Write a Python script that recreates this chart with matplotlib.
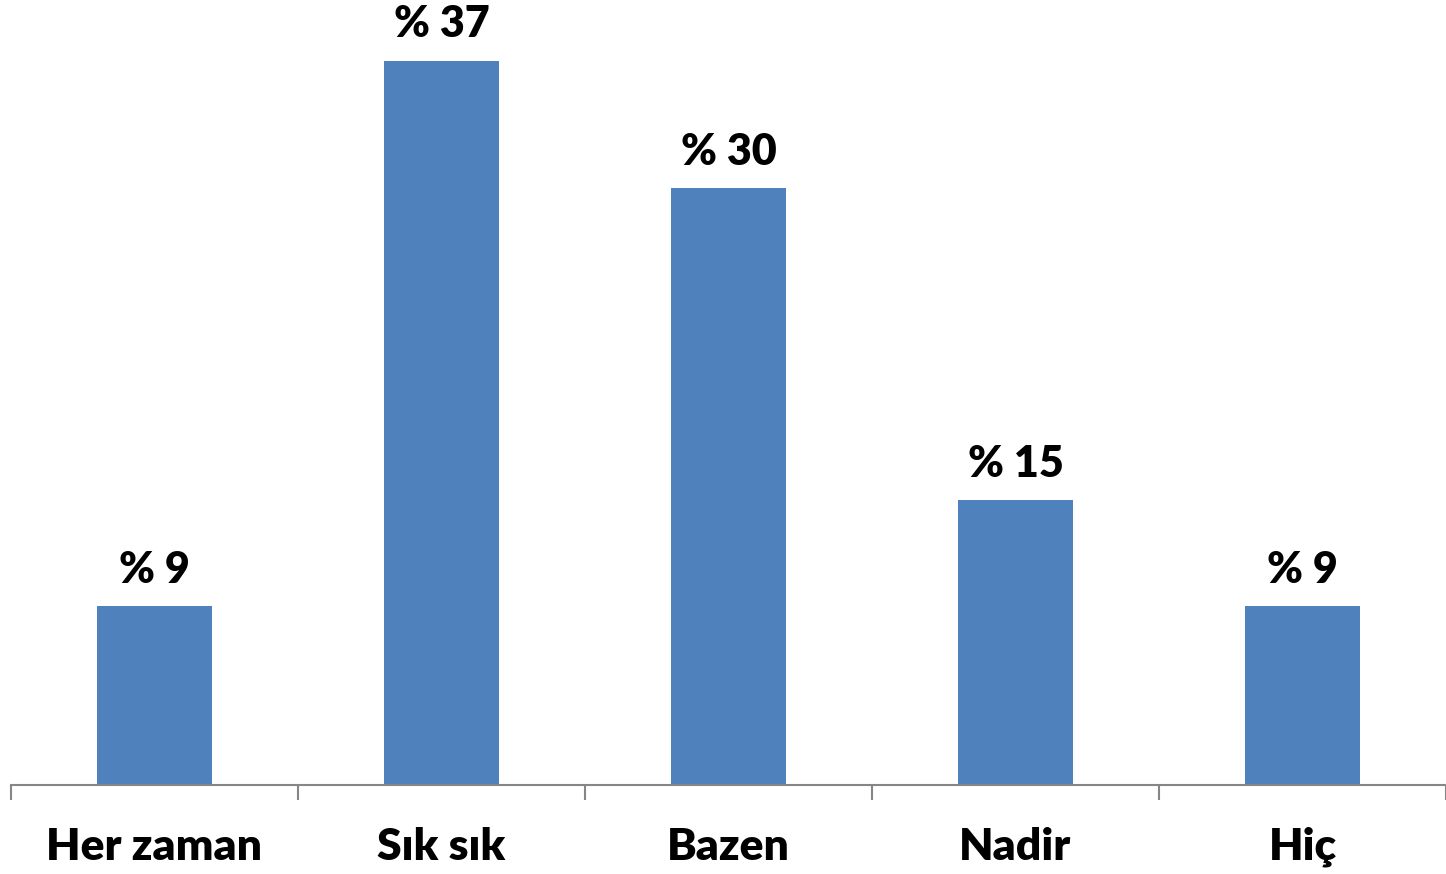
import numpy as np
import matplotlib
matplotlib.use("Agg")
import matplotlib.pyplot as plt

categories = ["Her zaman", "Sık sık", "Bazen", "Nadir", "Hiç"]
values = [9.1, 36.9, 30.4, 14.5, 9.1]
value_labels = ["% 9", "% 37", "% 30", "% 15", "% 9"]

plt.rcParams['font.family'] = ['Lato', 'DejaVu Sans']

fig = plt.figure(figsize=(14.46, 8.74), dpi=100)
ax = fig.add_axes([11 / 1446, 89 / 874, 1435 / 1446, 785 / 874])

x = np.arange(len(categories))
ax.bar(x, values, width=0.4, color="#4F81BD")

for xi, v, lab in zip(x, values, value_labels):
    ax.annotate(lab, (xi, v), xytext=(0, 12), textcoords="offset points",
                ha="center", va="bottom", fontsize=31, fontweight="heavy")

ax.set_xlim(-0.5, len(categories) - 0.5)
ax.set_ylim(0, 40)

for s in ["top", "right", "left"]:
    ax.spines[s].set_visible(False)
ax.spines["bottom"].set_color("#868686")
ax.spines["bottom"].set_linewidth(1.5)

ax.set_yticks([])
ax.set_xticks(np.arange(-0.5, len(categories)), minor=False)
ax.set_xticklabels([])
ax.tick_params(axis="x", which="major", length=11, width=1.5, color="#868686")
ax.set_xticks(x, minor=True)
ax.set_xticklabels(categories, minor=True, fontsize=32, fontweight="heavy")
ax.tick_params(axis="x", which="minor", length=0, pad=30)

fig.savefig("out.png", dpi=100)
